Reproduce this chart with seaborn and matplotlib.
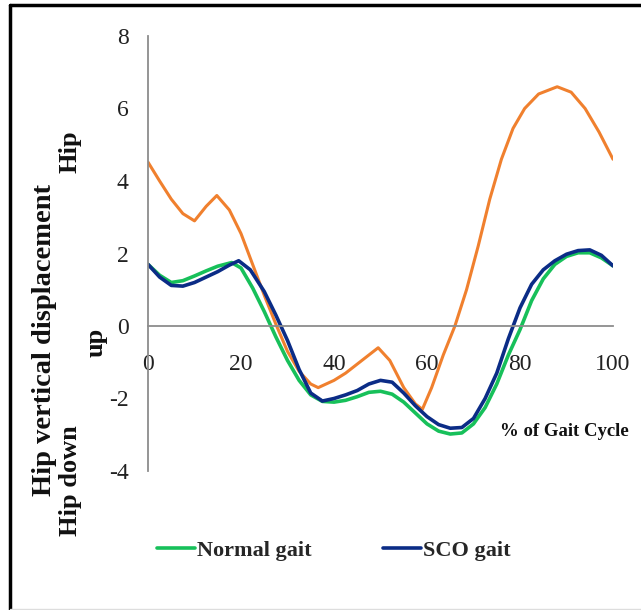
import numpy as np
import pandas as pd
import matplotlib
matplotlib.use('Agg')
import matplotlib.pyplot as plt
import seaborn as sns
from matplotlib.lines import Line2D

# Normal gait (green)
normal_x = [0, 2.5, 5, 7.5, 10, 12.5, 15, 18, 20, 22.5, 25, 27.5, 30, 32.5, 35, 37.5, 40,
            42.5, 45, 47.5, 50, 52.5, 55, 57.5, 60, 62.5, 65, 67.5, 70, 72.5, 75, 77.5, 80,
            82.5, 85, 87.5, 90, 92.5, 95, 97.5, 100]
normal_y = [1.70, 1.40, 1.20, 1.25, 1.38, 1.52, 1.65, 1.75, 1.60, 1.05, 0.40, -0.30, -0.95,
            -1.50, -1.90, -2.08, -2.10, -2.05, -1.95, -1.83, -1.80, -1.88, -2.10, -2.40, -2.70,
            -2.90, -2.98, -2.95, -2.70, -2.25, -1.60, -0.80, -0.10, 0.70, 1.30, 1.70, 1.92,
            2.02, 2.02, 1.88, 1.66]

# SCO gait (navy)
sco_x = [0, 2.5, 5, 7.5, 10, 12.5, 15, 17.5, 19.5, 22, 25, 27.5, 30, 32.5, 35, 37.5, 40,
         42.5, 45, 47.5, 50, 52.5, 55, 57.5, 60, 62.5, 65, 67.5, 70, 72.5, 75, 77.5, 80,
         82.5, 85, 87.5, 90, 92.5, 95, 97.5, 100]
sco_y = [1.70, 1.35, 1.12, 1.10, 1.20, 1.35, 1.50, 1.68, 1.80, 1.55, 0.95, 0.30, -0.40,
         -1.20, -1.85, -2.07, -2.00, -1.90, -1.78, -1.60, -1.50, -1.55, -1.85, -2.20, -2.50,
         -2.72, -2.82, -2.80, -2.55, -2.00, -1.30, -0.35, 0.50, 1.15, 1.55, 1.80, 1.98,
         2.08, 2.10, 1.95, 1.66]

# third series (orange), no legend entry in the original
other_x = [0, 2.5, 5, 7.5, 10, 12.5, 14.8, 17.5, 20, 22.5, 25, 27.5, 30, 32.5, 35, 36.6,
           40, 42.5, 45, 47.5, 49.5, 52, 55, 57.5, 59, 61, 63.5, 66, 68.5, 71, 73.5, 76,
           78.5, 81, 84, 88, 91, 94, 97, 100]
other_y = [4.52, 4.00, 3.50, 3.10, 2.90, 3.30, 3.60, 3.20, 2.55, 1.70, 0.85, 0.05, -0.70,
           -1.25, -1.60, -1.70, -1.50, -1.30, -1.05, -0.80, -0.60, -0.95, -1.70, -2.15,
           -2.30, -1.70, -0.80, 0.00, 1.00, 2.20, 3.50, 4.60, 5.45, 6.00, 6.40, 6.60, 6.45,
           6.00, 5.35, 4.60]

x_ticks = [0, 20, 40, 60, 80, 100]
y_ticks = [-4, -2, 0, 2, 4, 6, 8]

sns.set_theme(style='white')
plt.rcParams['font.family'] = ['Liberation Serif', 'DejaVu Serif']

fig = plt.figure(figsize=(6.41, 6.10), dpi=100)
ax = fig.add_axes([148 / 641, 1 - 471 / 610, (613 - 148) / 641, (471 - 36) / 610])

df_other = pd.DataFrame({'x': other_x, 'y': other_y})
df_normal = pd.DataFrame({'x': normal_x, 'y': normal_y})
df_sco = pd.DataFrame({'x': sco_x, 'y': sco_y})

sns.lineplot(data=df_other, x='x', y='y', ax=ax, color='#F0802E', linewidth=2.2, sort=False)
sns.lineplot(data=df_normal, x='x', y='y', ax=ax, color='#17C05A', linewidth=2.6, sort=False)
sns.lineplot(data=df_sco, x='x', y='y', ax=ax, color='#0B2C86', linewidth=2.6, sort=False)

ax.set_xlim(0, 100)
ax.set_ylim(-4, 8)
ax.set_xticks(x_ticks)
ax.set_yticks(y_ticks)
ax.set_xticklabels([str(v) for v in x_ticks])
ax.set_yticklabels([str(v) for v in y_ticks])
ax.set_xlabel('')
ax.set_ylabel('')

ax.spines['top'].set_visible(False)
ax.spines['right'].set_visible(False)
ax.spines['bottom'].set_position(('data', 0))
for s in ['left', 'bottom']:
    ax.spines[s].set_color('#8c8c8c')
    ax.spines[s].set_linewidth(1.3)
ax.tick_params(axis='x', length=0, pad=20, labelsize=17, colors='#222222')
ax.tick_params(axis='y', length=0, pad=14, labelsize=17, colors='#222222')

fig.text(500 / 641, 1 - 432 / 610, '% of Gait Cycle', ha='left', va='center',
         fontsize=13.5, fontweight='bold', color='#111111')

# y axis title pieces
fig.text(45 / 641, 1 - 340 / 610, 'Hip vertical displacement', rotation=90,
         ha='center', va='center', fontsize=20.5, fontweight='bold', color='#111111')
fig.text(70 / 641, 1 - 481 / 610, 'Hip down', rotation=90,
         ha='center', va='center', fontsize=19, fontweight='bold', color='#111111')
fig.text(70 / 641, 1 - 152 / 610, 'Hip', rotation=90,
         ha='center', va='center', fontsize=19, fontweight='bold', color='#111111')
fig.text(96 / 641, 1 - 342 / 610, 'up', rotation=90,
         ha='center', va='center', fontsize=19, fontweight='bold', color='#111111')

handles = [Line2D([], [], color='#17C05A', linewidth=2.6),
           Line2D([], [], color='#0B2C86', linewidth=2.6)]
fig.legend(handles, ['Normal gait', 'SCO gait'], loc='center',
           bbox_to_anchor=(334 / 641, 1 - 551 / 610), ncol=2, frameon=False,
           prop={'weight': 'bold', 'size': 16}, handlelength=1.7, handletextpad=0.1,
           columnspacing=3.2)

# frame around the picture: top and left dark, bottom faint
fig.add_artist(Line2D([10 / 641, 1], [1 - 5 / 610, 1 - 5 / 610], transform=fig.transFigure,
                      color='black', linewidth=2.5))
fig.add_artist(Line2D([10 / 641, 10 / 641], [1 - 5 / 610, 0], transform=fig.transFigure,
                      color='black', linewidth=2.5))
fig.add_artist(Line2D([10 / 641, 1], [1 - 609 / 610, 1 - 609 / 610], transform=fig.transFigure,
                      color='#dddddd', linewidth=1))

fig.savefig('out.png', dpi=100)
